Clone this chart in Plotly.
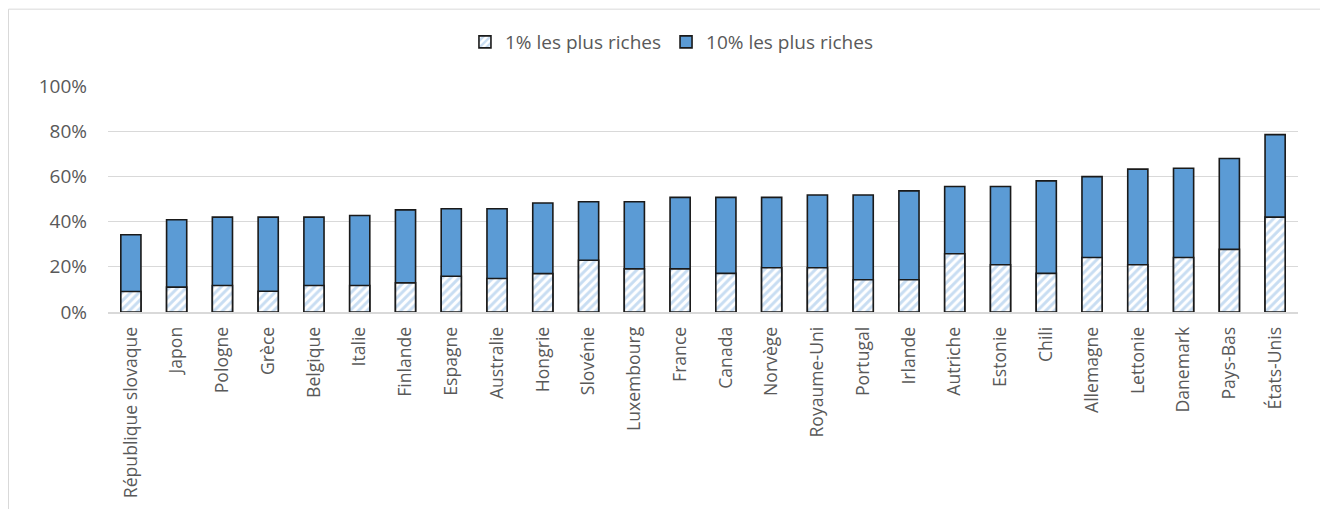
import plotly.graph_objects as go

categories = ["République slovaque", "Japon", "Pologne", "Grèce", "Belgique", "Italie",
              "Finlande", "Espagne", "Australie", "Hongrie", "Slovénie", "Luxembourg",
              "France", "Canada", "Norvège", "Royaume-Uni", "Portugal", "Irlande",
              "Autriche", "Estonie", "Chili", "Allemagne", "Lettonie", "Danemark",
              "Pays-Bas", "États-Unis"]
top10 = [34.2, 40.8, 42.0, 42.0, 42.0, 42.7, 45.2, 45.7, 45.7, 48.2, 48.8, 48.8, 50.7,
         50.7, 50.7, 51.8, 51.8, 53.6, 55.5, 55.5, 58.0, 59.9, 63.2, 63.6, 67.9, 78.5]
top1 = [9.1, 11.0, 11.7, 9.2, 11.7, 11.7, 12.9, 15.8, 14.8, 17.0, 22.9, 19.1, 19.1,
        17.1, 19.6, 19.6, 14.3, 14.3, 25.8, 20.9, 17.1, 24.1, 20.9, 24.1, 27.7, 42.0]
yticks = [0, 20, 40, 60, 80, 100]

GRAY = "#595959"
FONT = "Open Sans"

fig = go.Figure()
fig.add_trace(go.Bar(
    x=categories, y=top10, name="10% les plus riches", legendrank=2,
    marker=dict(color="#5b9bd5", line=dict(color="#1a1a1a", width=1.6)),
))
fig.add_trace(go.Bar(
    x=categories, y=top1, name="1% les plus riches", legendrank=1,
    marker=dict(color="white", line=dict(color="#1a1a1a", width=1.6),
                pattern=dict(shape="/", fgcolor="#92bce6", bgcolor="white",
                             size=6, solidity=0.5)),
))

fig.update_layout(
    width=1320, height=501,
    margin=dict(l=100, r=30, t=78, b=196.5, autoexpand=False),
    paper_bgcolor="white", plot_bgcolor="white",
    barmode="overlay", bargap=0.56,
    font=dict(family=FONT, color=GRAY),
    showlegend=True,
    legend=dict(orientation="h", xref="container", yref="container",
                x=0.503, xanchor="center", y=0.932, yanchor="middle",
                font=dict(size=19, color=GRAY, family=FONT), traceorder="normal",
                itemwidth=30),
    shapes=[
        dict(type="line", xref="paper", yref="paper", x0=-0.0836, x1=-0.0836,
             y0=-0.9, y1=1.34, line=dict(color="#d9d9d9", width=1)),
        dict(type="line", xref="paper", yref="paper", x0=-0.0836, x1=1.03,
             y0=1.34, y1=1.34, line=dict(color="#d9d9d9", width=1)),
    ],
)
fig.update_xaxes(
    tickangle=-90, tickfont=dict(size=17.6, color=GRAY, family=FONT),
    showline=True, linecolor="#d9d9d9", linewidth=1.5, ticks="",
    ticklabelstandoff=6, automargin=False,
)
fig.update_yaxes(
    range=[0, 100], tickvals=yticks, ticktext=[f"{v}%" for v in yticks],
    tickfont=dict(size=19, color=GRAY, family=FONT),
    showgrid=True, gridcolor="#d9d9d9", gridwidth=1.2, zeroline=False,
    ticklabelstandoff=20, automargin=False,
)

fig.write_html("out.html")
